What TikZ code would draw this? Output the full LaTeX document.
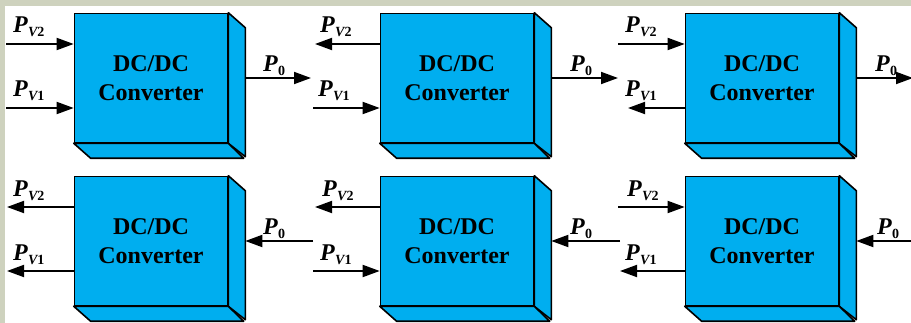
\documentclass[tikz,border=0pt]{standalone}
\usepackage{fontspec}
\setmainfont{Liberation Serif}
\usetikzlibrary{arrows.meta}
\definecolor{boxblue}{RGB}{0,174,239}
\definecolor{bgc}{RGB}{206,210,190}
\newcommand\Plab[1]{{\bfseries\itshape P}\kern0.3pt\raisebox{-3.5pt}{\fontsize{14}{14}\selectfont\bfseries #1}}
\newcommand\PV[1]{\Plab{{\itshape V}#1}}
\newcommand\Pzero{\Plab{0}}
\tikzset{
  conv/.style={draw=black, line width=1.6pt, fill=boxblue, minimum width=153pt, minimum height=129pt,
    inner sep=0pt, align=center, font=\fontsize{24}{29}\selectfont\bfseries},
  face/.style={draw=black, line width=1.6pt, fill=boxblue, line join=round},
  arr/.style={line width=1.8pt, -{Triangle[length=17pt,width=12pt]}},
  lbl/.style={inner sep=0pt, anchor=base west, font=\fontsize{24}{24}\selectfont}
}
\newcommand\convbox[3]{%
  \node[conv] (#1) at (#2,#3) {DC/DC\\Converter};
  \draw[face] (#1.north east) -- ++(17,15) -- ++(0,129) -- (#1.south east) -- cycle;
  \draw[face] (#1.south west) -- ++(17,15) -- ++(153,0) -- (#1.south east) -- cycle;
  \coordinate (#1r) at ([xshift=17pt]#1.east);
}
\begin{document}
\begin{tikzpicture}[x=1pt,y=-1pt]
\useasboundingbox (0,0) rectangle (911,323);
\clip (0,0) rectangle (911,323);
\fill[bgc] (0,0) rectangle (911,323);
\fill[white] (5,6) rectangle (911,323);

% top row
\convbox{b1}{151}{78}
\convbox{b2}{457}{78}
\convbox{b3}{762}{78}
% bottom row
\convbox{b4}{151}{241}
\convbox{b5}{457}{241}
\convbox{b6}{762}{241}

% box 1: V2 in, V1 in, P0 out
\coordinate (b1a) at (6,44);
\coordinate (b1b) at (6,108);
\coordinate (b1c) at (311,78);
\draw[arr] (b1a) -- (b1a -| b1.west);
\draw[arr] (b1b) -- (b1b -| b1.west);
\draw[arr] (b1r) -- (b1c);
\node[lbl] (l1a) at (13,33) {\PV{2}};
\node[lbl] (l1b) at (13,97) {\PV{1}};
\node[lbl] (l1c) at (263,72) {\Pzero};

% box 2: V2 out, V1 in, P0 out
\coordinate (b2a) at (315,44);
\coordinate (b2b) at (313,108);
\coordinate (b2c) at (618,78);
\draw[arr] (b2a -| b2.west) -- (b2a);
\draw[arr] (b2b) -- (b2b -| b2.west);
\draw[arr] (b2r) -- (b2c);
\node[lbl] (l2a) at (320,33) {\PV{2}};
\node[lbl] (l2b) at (318,97) {\PV{1}};
\node[lbl] (l2c) at (570,72) {\Pzero};

% box 3: V2 in, V1 out, P0 out
\coordinate (b3a) at (618,44);
\coordinate (b3b) at (628,108);
\coordinate (b3c) at (913,78);
\draw[arr] (b3a) -- (b3a -| b3.west);
\draw[arr] (b3b -| b3.west) -- (b3b);
\draw[arr] (b3r) -- (b3c);
\node[lbl] (l3a) at (625,33) {\PV{2}};
\node[lbl] (l3b) at (625,97) {\PV{1}};
\node[lbl] (l3c) at (875,72) {\Pzero};

% box 4: V2 out, V1 out, P0 in
\coordinate (b4a) at (7,207);
\coordinate (b4b) at (7,271);
\coordinate (b4c) at (313,241);
\draw[arr] (b4a -| b4.west) -- (b4a);
\draw[arr] (b4b -| b4.west) -- (b4b);
\draw[arr] (b4c) -- (b4r);
\node[lbl] (l4a) at (13,197) {\PV{2}};
\node[lbl] (l4b) at (13,261) {\PV{1}};
\node[lbl] (l4c) at (263,235) {\Pzero};

% box 5: V2 out, V1 in, P0 in
\coordinate (b5a) at (315,207);
\coordinate (b5b) at (313,271);
\coordinate (b5c) at (620,241);
\draw[arr] (b5a -| b5.west) -- (b5a);
\draw[arr] (b5b) -- (b5b -| b5.west);
\draw[arr] (b5c) -- (b5r);
\node[lbl] (l5a) at (322,197) {\PV{2}};
\node[lbl] (l5b) at (320,261) {\PV{1}};
\node[lbl] (l5c) at (570,235) {\Pzero};

% box 6: V2 in, V1 out, P0 in
\coordinate (b6a) at (618,207);
\coordinate (b6b) at (620,271);
\coordinate (b6c) at (913,241);
\draw[arr] (b6a) -- (b6a -| b6.west);
\draw[arr] (b6b -| b6.west) -- (b6b);
\draw[arr] (b6c) -- (b6r);
\node[lbl] (l6a) at (627,197) {\PV{2}};
\node[lbl] (l6b) at (625,261) {\PV{1}};
\node[lbl] (l6c) at (877,235) {\Pzero};
\end{tikzpicture}
\end{document}
